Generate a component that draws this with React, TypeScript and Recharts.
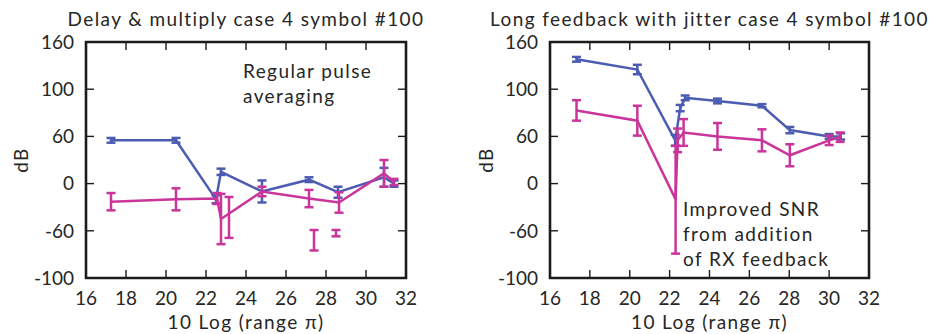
import React from 'react';
import { LineChart, Line, XAxis, YAxis, ErrorBar, ReferenceArea } from 'recharts';

// ---------- data ----------
const xTicks = [16, 18, 20, 22, 24, 26, 28, 30, 32];
const yTicks = [-120, -60, 0, 60, 120, 180];
const yTickLabels = ['-100', '-60', '0', '60', '100', '160'];

const leftTitle = 'Delay & multiply case 4 symbol #100';
const rightTitle = 'Long feedback with jitter case 4 symbol #100';
const xLabel = '10 Log (range \u03C0)';
const yLabel = 'dB';
const leftNote = ['Regular pulse', 'averaging'];
const rightNote = ['Improved SNR', 'from addition', 'of RX feedback'];

const leftBlue = [
  { x: 17.25, y: 55, e: 3 },
  { x: 20.5, y: 55, e: 3 },
  { x: 22.5, y: -20, e: 5 },
  { x: 22.75, y: 15, e: 4 },
  { x: 24.8, y: -10, e: 14 },
  { x: 27.15, y: 5, e: 3 },
  { x: 28.6, y: -11, e: 7 },
  { x: 30.9, y: 8, e: 12 },
  { x: 31.4, y: 0, e: 4 },
];
const leftPink = [
  { x: 17.25, y: -23, e: 11 },
  { x: 20.5, y: -20, e: 14 },
  { x: 22.55, y: -19, e: 7 },
  { x: 22.75, y: -45, e: 32 },
  { x: 24.8, y: -10, e: 6 },
  { x: 27.15, y: -19, e: 11 },
  { x: 28.65, y: -24, e: 13 },
  { x: 30.9, y: 13, e: 17 },
  { x: 31.4, y: 2, e: 4 },
];
const leftPinkExtra = [
  { x: 23.15, y: -43, e: 26 },
  { x: 27.4, y: -72, e: 13 },
  { x: 28.5, y: -63, e: 4 },
];

const rightBlue = [
  { x: 17.33, y: 158, e: 3 },
  { x: 20.38, y: 145, e: 6 },
  { x: 22.28, y: 55, e: 7 },
  { x: 22.53, y: 96, e: 4 },
  { x: 22.78, y: 109, e: 3 },
  { x: 24.4, y: 105, e: 3 },
  { x: 26.63, y: 99, e: 2 },
  { x: 28.03, y: 68, e: 4 },
  { x: 30.0, y: 60, e: 3 },
  { x: 30.58, y: 60, e: 4 },
];
const rightPink = [
  { x: 17.33, y: 93, e: 13 },
  { x: 20.38, y: 80, e: 19 },
  { x: 22.3, y: -20, e: [69, 68] },
  { x: 22.4, y: 55, e: 15 },
  { x: 22.7, y: 65, e: 17 },
  { x: 24.4, y: 60, e: 17 },
  { x: 26.63, y: 55, e: 14 },
  { x: 28.03, y: 36, e: 14 },
  { x: 30.0, y: 55, e: 6 },
  { x: 30.55, y: 59, e: 6 },
];

// ---------- style ----------
const BLUE = '#4b5cb2';
const PINK = '#c9359a';
const FRAME = '#1c1c1c';
const TEXT = '#262626';
const FONT = 'Lato, "Open Sans", sans-serif';
const FS = 19;
const LS = '1.4px';
const TICK_LEN = 8;

const makeYTick = (W: number) => (props: any) => {
  const { x, y, payload } = props;
  const i = yTicks.indexOf(payload.value);
  return (
    <g>
      <line x1={x} x2={x + TICK_LEN} y1={y} y2={y} stroke={FRAME} strokeWidth={1.4} />
      <line x1={x + W - TICK_LEN} x2={x + W} y1={y} y2={y} stroke={FRAME} strokeWidth={1.4} />
      <text x={x - 12} y={y} dy="0.36em" textAnchor="end" fill={TEXT} fontSize={FS} fontFamily={FONT}>
        {yTickLabels[i]}
      </text>
    </g>
  );
};

const makeXTick = (H: number) => (props: any) => {
  const { x, y, payload } = props;
  return (
    <g>
      <line x1={x} x2={x} y1={y} y2={y - TICK_LEN} stroke={FRAME} strokeWidth={1.4} />
      <line x1={x} x2={x} y1={y - H} y2={y - H + TICK_LEN} stroke={FRAME} strokeWidth={1.4} />
      <text x={x} y={y + 27} textAnchor="middle" fill={TEXT} fontSize={FS} fontFamily={FONT}>
        {payload.value}
      </text>
    </g>
  );
};

type PanelProps = {
  left: number;
  marginLeft: number;
  marginRight: number;
  title: string;
  blue: any[];
  pink: any[];
  extra?: any[];
  note: string[];
  noteX: number;
  noteY: number;
  yLabelX: number;
};

const W_CHART = 472;
const H_CHART = 334;
const TOP = 42;
const PLOT_H = 236;
const YAXIS_W = 60;

function Panel(p: PanelProps) {
  const plotLeft = p.marginLeft + YAXIS_W;
  const plotW = W_CHART - plotLeft - p.marginRight;
  const textStyle: React.CSSProperties = {
    position: 'absolute',
    fontFamily: FONT,
    fontSize: FS,
    color: TEXT,
    whiteSpace: 'nowrap',
    letterSpacing: LS,
  };
  return (
    <div style={{ position: 'absolute', left: p.left, top: 0, width: W_CHART, height: H_CHART }}>
      <LineChart
        width={W_CHART}
        height={H_CHART}
        margin={{ top: TOP, right: p.marginRight, bottom: 0, left: p.marginLeft }}
      >
        <XAxis
          type="number"
          dataKey="x"
          domain={[16, 32]}
          ticks={xTicks}
          interval={0}
          allowDataOverflow
          axisLine={false}
          tickLine={false}
          tickSize={0}
          tickMargin={0}
          height={H_CHART - TOP - PLOT_H}
          tick={makeXTick(PLOT_H)}
        />
        <YAxis
          type="number"
          domain={[-120, 180]}
          ticks={yTicks}
          interval={0}
          allowDataOverflow
          axisLine={false}
          tickLine={false}
          tickSize={0}
          tickMargin={0}
          width={YAXIS_W}
          tick={makeYTick(plotW)}
        />
        <Line
          data={p.blue}
          dataKey="y"
          type="linear"
          stroke={BLUE}
          strokeWidth={2.5}
          dot={false}
          isAnimationActive={false}
        >
          <ErrorBar dataKey="e" direction="y" width={4.5} stroke={BLUE} strokeWidth={2.5} />
        </Line>
        <Line
          data={p.pink}
          dataKey="y"
          type="linear"
          stroke={PINK}
          strokeWidth={2.5}
          dot={false}
          isAnimationActive={false}
        >
          <ErrorBar dataKey="e" direction="y" width={4.5} stroke={PINK} strokeWidth={2.5} />
        </Line>
        {p.extra ? (
          <Line
            data={p.extra}
            dataKey="y"
            type="linear"
            stroke="none"
            strokeWidth={0}
            dot={false}
            isAnimationActive={false}
          >
            <ErrorBar dataKey="e" direction="y" width={4.5} stroke={PINK} strokeWidth={2.5} />
          </Line>
        ) : null}
        <ReferenceArea
          x1={16}
          x2={32}
          y1={-120}
          y2={180}
          fill="none"
          fillOpacity={0}
          stroke={FRAME}
          strokeWidth={2.6}
          ifOverflow="visible"
        />
      </LineChart>
      <div style={{ ...textStyle, left: plotLeft - 80, width: plotW + 160, top: 8, lineHeight: '22px', textAlign: 'center' }}>
        {p.title}
      </div>
      <div style={{ ...textStyle, left: plotLeft, width: plotW, top: 311, lineHeight: '22px', textAlign: 'center' }}>
        {xLabel}
      </div>
      <div
        style={{
          ...textStyle,
          left: p.yLabelX - 20,
          top: 160 - 11,
          width: 40,
          lineHeight: '22px',
          textAlign: 'center',
          transform: 'rotate(-90deg)',
        }}
      >
        {yLabel}
      </div>
      <div style={{ ...textStyle, left: p.noteX, top: p.noteY, lineHeight: '25px' }}>
        {p.note.map((t, i) => (
          <div key={i}>{t}</div>
        ))}
      </div>
    </div>
  );
}

export default function App() {
  return (
    <div style={{ position: 'absolute', left: 0, top: 0, width: 944, height: 334, background: '#fff' }}>
      <Panel
        left={0}
        marginLeft={26}
        marginRight={66}
        title={leftTitle}
        blue={leftBlue}
        pink={leftPink}
        extra={leftPinkExtra}
        note={leftNote}
        noteX={243}
        noteY={58}
        yLabelX={21}
      />
      <Panel
        left={472}
        marginLeft={18}
        marginRight={75}
        title={rightTitle}
        blue={rightBlue}
        pink={rightPink}
        note={rightNote}
        noteX={683 - 472}
        noteY={196}
        yLabelX={14}
      />
    </div>
  );
}
